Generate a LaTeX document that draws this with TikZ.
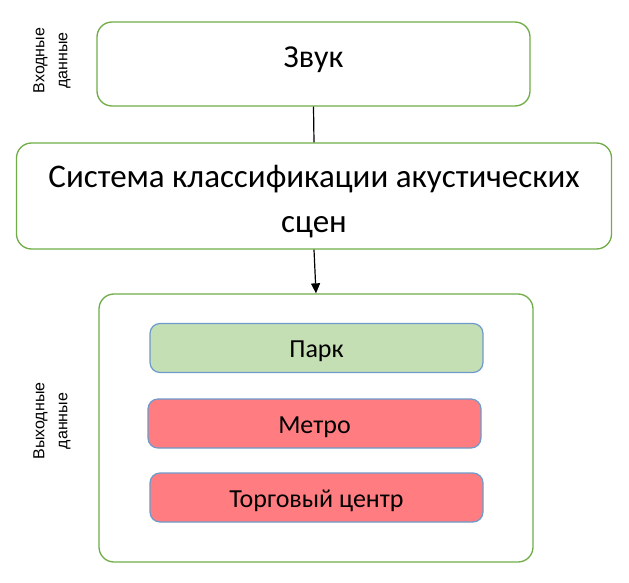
\documentclass[tikz,border=0pt]{standalone}
\usepackage{fontspec}
\setmainfont{Carlito}
\newfontfamily\sidefont{Liberation Sans}
\usetikzlibrary{arrows.meta}
\definecolor{rimgreen}{HTML}{70AD47}
\definecolor{rimblue}{HTML}{6E9BCB}
\definecolor{parkfill}{HTML}{C5DFB4}
\definecolor{redfill}{HTML}{FF7C80}
\tikzset{
  bigbox/.style={draw=rimgreen,line width=1.3pt,rounded corners=15pt,fill=white,align=center,inner sep=0pt},
  classbox/.style={draw=rimblue,line width=1.2pt,rounded corners=10pt,minimum width=333pt,minimum height=49pt,
    inner sep=0pt,text height=19pt,text depth=0pt,font=\fontsize{26}{30}\selectfont},
  sidelabel/.style={rotate=90,align=center,font=\sidefont\fontsize{16}{23}\selectfont}
}
\begin{document}
\begin{tikzpicture}[x=1pt,y=-1pt]
  \useasboundingbox (0,0) rectangle (629,583);
  % input, system, output
  \node[bigbox,minimum width=433pt,minimum height=84pt,text height=11pt,text depth=4pt,
    font=\fontsize{32}{40}\selectfont] (zvuk) at (313.5,64) {Звук};
  \node[bigbox,minimum width=595pt,minimum height=106pt,font=\fontsize{33}{45}\selectfont] (sistema) at (314,196)
    {\rule{0pt}{33pt}Система классификации акустических\\сцен};
  \node[bigbox,minimum width=434pt,minimum height=268pt] (vyhod) at (316,428) {};
  % classes
  \node[classbox,fill=parkfill] (park) at (316.5,348) {Парк};
  \node[classbox,fill=redfill] (metro) at (314.5,423.5) {Метро};
  \node[classbox,fill=redfill] (tc) at (316.5,497.5) {Торговый центр};
  \node[sidelabel] (vhodlbl) at (52,60.5) {Входные\\данные};
  \node[sidelabel] (vyhodlbl) at (52,421) {Выходные\\данные};
  \draw[line width=1.2pt] (zvuk.south) -- (sistema.north);
  \draw[line width=1.2pt,-{Triangle[length=10pt,width=9pt]}] (sistema.south) -- (vyhod.north);
\end{tikzpicture}
\end{document}
